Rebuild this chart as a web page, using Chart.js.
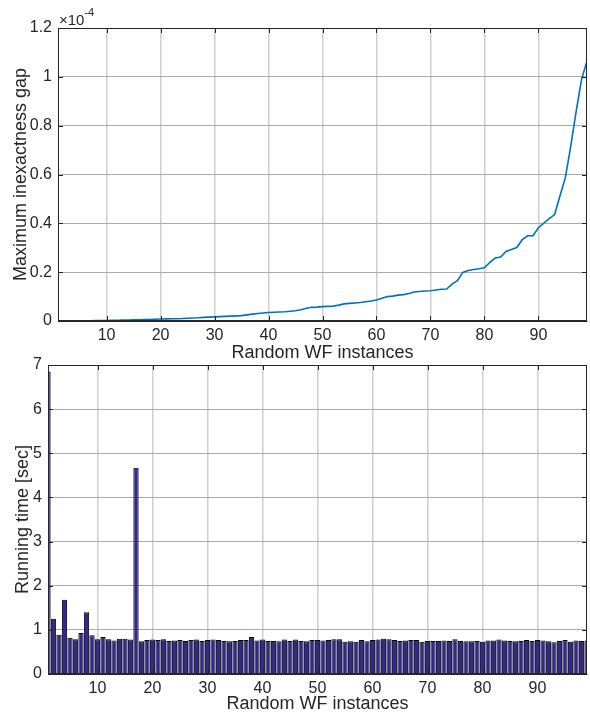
<!DOCTYPE html>
<html>
<head>
<meta charset="utf-8">
<script src="https://cdn.jsdelivr.net/npm/chart.js@4.4.1/dist/chart.umd.min.js"></script>
<style>
  html, body { margin: 0; padding: 0; background: #ffffff; }
  #wrap { position: relative; width: 590px; height: 713px; overflow: hidden; }
  #c1 { position: absolute; left: 0; top: 0; }
  #c2 { position: absolute; left: 0; top: 342px; }
</style>
</head>
<body>
<div id="wrap">
  <canvas id="c1" width="590" height="362"></canvas>
  <canvas id="c2" width="590" height="371"></canvas>
</div>
<script>
// ---- data ----
const instances = Array.from({length: 99}, (_, i) => i + 1);
// Maximum inexactness gap, in units of 1e-4
const gapScaled = [
  0, 0, 0.0003, 0.0005, 0.0007, 0.001, 0.0012, 0.0014, 0.0016, 0.002,
  0.0025, 0.003, 0.0035, 0.004, 0.0045, 0.005, 0.0055, 0.006, 0.007, 0.008,
  0.0085, 0.009, 0.0095, 0.010, 0.011, 0.012, 0.013, 0.015, 0.016, 0.017,
  0.018, 0.019, 0.020, 0.021, 0.022, 0.025, 0.028, 0.031, 0.033, 0.035,
  0.036, 0.037, 0.038, 0.040, 0.042, 0.046, 0.052, 0.056, 0.057, 0.059,
  0.060, 0.061, 0.065, 0.070, 0.072, 0.074, 0.076, 0.079, 0.082, 0.086,
  0.093, 0.100, 0.102, 0.106, 0.108, 0.113, 0.119, 0.121, 0.123, 0.124,
  0.127, 0.130, 0.131, 0.151, 0.165, 0.199, 0.207, 0.211, 0.214, 0.218,
  0.240, 0.258, 0.262, 0.285, 0.293, 0.301, 0.333, 0.349, 0.349, 0.382,
  0.401, 0.419, 0.436, 0.513, 0.588, 0.717, 0.860, 0.990, 1.065
];
// Running time [sec]
const runTime = [
  6.85, 1.25, 0.89, 1.68, 0.82, 0.79, 0.93, 1.40, 0.88, 0.79,
  0.84, 0.79, 0.76, 0.80, 0.80, 0.78, 4.67, 0.74, 0.77, 0.78,
  0.77, 0.79, 0.75, 0.76, 0.77, 0.75, 0.77, 0.78, 0.75, 0.77,
  0.78, 0.77, 0.75, 0.74, 0.75, 0.77, 0.77, 0.84, 0.76, 0.78,
  0.75, 0.75, 0.74, 0.78, 0.75, 0.78, 0.75, 0.74, 0.77, 0.77,
  0.76, 0.77, 0.79, 0.79, 0.73, 0.74, 0.73, 0.77, 0.74, 0.77,
  0.78, 0.80, 0.79, 0.77, 0.75, 0.76, 0.77, 0.77, 0.73, 0.75,
  0.75, 0.75, 0.76, 0.75, 0.79, 0.75, 0.74, 0.74, 0.75, 0.73,
  0.76, 0.76, 0.78, 0.76, 0.75, 0.74, 0.75, 0.77, 0.75, 0.77,
  0.76, 0.74, 0.72, 0.75, 0.77, 0.73, 0.76, 0.75, 0.76
];
const xTicks = [10, 20, 30, 40, 50, 60, 70, 80, 90];
const gapTicks = [0, 0.2, 0.4, 0.6, 0.8, 1.0, 1.2];
const timeTicks = [0, 1, 2, 3, 4, 5, 6, 7];
const xLabel = 'Random WF instances';
const gapLabel = 'Maximum inexactness gap';
const timeLabel = 'Running time [sec]';
const exponentText = ['\u00d710', '-4'];

// ---- style ----
const FONT = "'Liberation Sans', Arial, Helvetica, sans-serif";
const TXT = '#262626';
const VGRID = '#cfcfcf';
const HGRID = '#ababab';

// plugin: box + inward tick marks (MATLAB look)
const boxPlugin = {
  id: 'boxPlugin',
  afterDatasetsDraw(chart) {
    const {ctx, chartArea: a, scales} = chart;
    ctx.save();
    ctx.strokeStyle = TXT;
    ctx.lineWidth = 1;
    const L = 5;
    ctx.beginPath();
    scales.x.ticks.forEach(t => {
      const px = Math.round(scales.x.getPixelForValue(t.value)) + 0.5;
      ctx.moveTo(px, a.bottom); ctx.lineTo(px, a.bottom - L);
      ctx.moveTo(px, a.top); ctx.lineTo(px, a.top + L);
    });
    scales.y.ticks.forEach(t => {
      const py = Math.round(scales.y.getPixelForValue(t.value)) + 0.5;
      ctx.moveTo(a.left, py); ctx.lineTo(a.left + L, py);
      ctx.moveTo(a.right, py); ctx.lineTo(a.right - L, py);
    });
    ctx.stroke();
    ctx.strokeRect(Math.round(a.left) + 0.5, Math.round(a.top) + 0.5,
                   Math.round(a.right - a.left) - 1, Math.round(a.bottom - a.top) - 1);
    const opt = chart.options.plugins.boxPlugin;
    if (opt && opt.exponent) {
      const ex = opt.exponent;
      ctx.fillStyle = TXT;
      ctx.textBaseline = 'alphabetic';
      ctx.textAlign = 'left';
      ctx.font = '15px ' + FONT;
      ctx.fillText(ex[0], a.left + 1, a.top - 3);
      const w = ctx.measureText(ex[0]).width;
      ctx.font = '11px ' + FONT;
      ctx.fillText(ex[1], a.left + 1 + w, a.top - 12);
    }
    ctx.restore();
  }
};

function xScale(heightPx) {
  return {
    type: 'linear', min: 1, max: 99, offset: false,
    afterBuildTicks: s => { s.ticks = xTicks.map(v => ({value: v})); },
    afterFit: s => { s.height = heightPx; s.paddingLeft = 0; s.paddingRight = 0; },
    grid: { color: VGRID, lineWidth: 1.5, drawTicks: false, offset: false },
    border: { display: true, color: TXT, width: 1 },
    ticks: { color: TXT, font: { family: FONT, size: 16 }, padding: 5, maxRotation: 0 },
    title: { display: true, text: xLabel, color: TXT, font: { family: FONT, size: 18 }, padding: { top: 0, bottom: -2 } }
  };
}
function yScale(widthPx, max, ticks, label, titlePad) {
  return {
    type: 'linear', min: 0, max: max,
    afterBuildTicks: s => { s.ticks = ticks.map(v => ({value: v})); },
    afterFit: s => { s.width = widthPx; s.paddingTop = 0; s.paddingBottom = 0; },
    grid: { color: HGRID, lineWidth: 1, drawTicks: false },
    border: { display: true, color: TXT, width: 1 },
    ticks: { color: TXT, font: { family: FONT, size: 16 }, padding: 6,
             callback: v => String(+Number(v).toFixed(1)) },
    title: { display: true, text: label, color: TXT, font: { family: FONT, size: 18 }, padding: { top: titlePad, bottom: 0 } }
  };
}

new Chart(document.getElementById('c1'), {
  type: 'line',
  data: {
    datasets: [{
      data: instances.map((x, i) => ({x: x, y: gapScaled[i]})),
      borderColor: '#0072BD', borderWidth: 1.6, pointRadius: 0, tension: 0, fill: false, clip: 0
    }]
  },
  options: {
    responsive: false, animation: false, devicePixelRatio: 1,
    layout: { padding: { top: 28, right: 3, left: 0, bottom: 0 } },
    plugins: { legend: { display: false }, tooltip: { enabled: false }, boxPlugin: { exponent: exponentText } },
    scales: { x: xScale(41), y: yScale(58, 1.2, gapTicks, gapLabel, 10) }
  },
  plugins: [boxPlugin]
});

new Chart(document.getElementById('c2'), {
  type: 'bar',
  data: {
    datasets: [{
      data: instances.map((x, i) => ({x: x, y: runTime[i]})),
      backgroundColor: '#33298c', borderColor: '#000000', borderWidth: 1,
      barPercentage: 0.96, categoryPercentage: 1.0, clip: 0
    }]
  },
  options: {
    responsive: false, animation: false, devicePixelRatio: 1,
    layout: { padding: { top: 23, right: 3, left: 0, bottom: 0 } },
    plugins: { legend: { display: false }, tooltip: { enabled: false }, boxPlugin: {} },
    scales: { x: xScale(39), y: yScale(48, 7, timeTicks, timeLabel, 12) }
  },
  plugins: [boxPlugin]
});
</script>
</body>
</html>
